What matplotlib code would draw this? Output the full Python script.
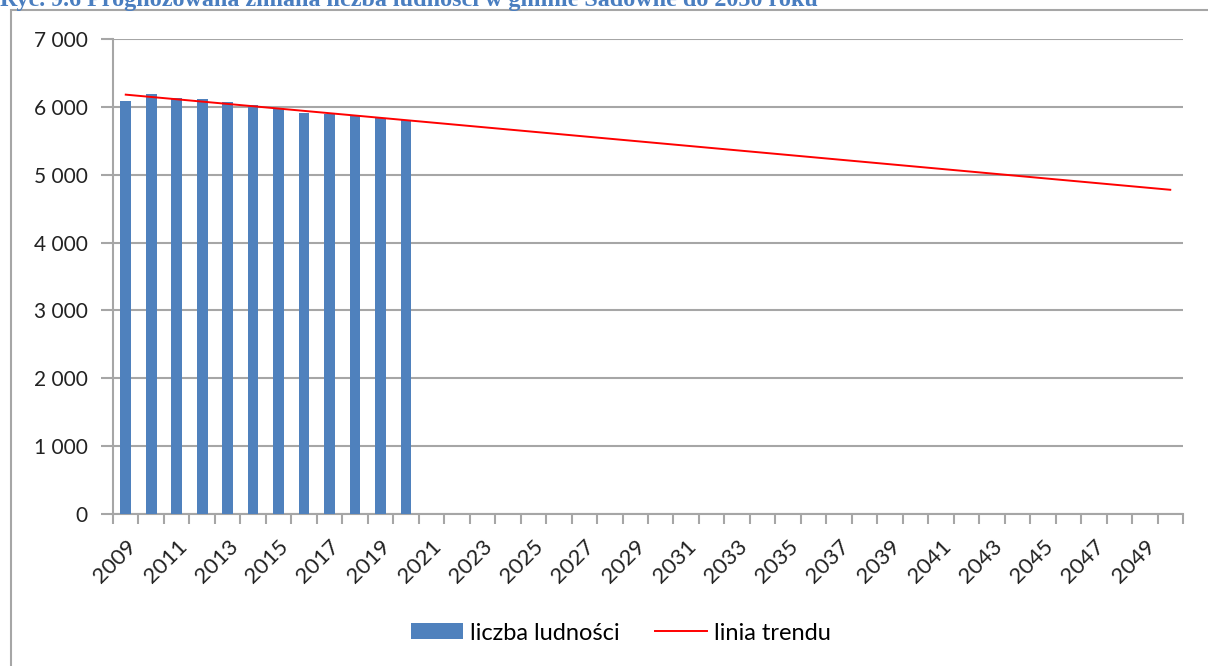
import matplotlib
import numpy as np

matplotlib.use("Agg")
import matplotlib.pyplot as plt
from matplotlib.lines import Line2D
from matplotlib.patches import Patch, Rectangle

TITLE = "Ryc. 9.6 Prognozowana zmiana liczba ludności w gminie Sadowne do 2050 roku"

years = list(range(2009, 2051))
bar_years = list(range(2009, 2021))
population = [6088, 6187, 6128, 6109, 6069, 6030, 5971, 5912, 5902, 5873, 5834, 5804]
trend_years = [2009, 2050]
trend_values = [6180, 4778]
y_ticks = [0, 1000, 2000, 3000, 4000, 5000, 6000, 7000]

BLUE = "#4F81BD"
GRID = "#A6A6A6"
FONT = ["Lato", "DejaVu Sans"]

fig = plt.figure(figsize=(12.08, 6.66), dpi=100)
W, H = 1208, 666
ax = fig.add_axes([113 / W, 1 - 514 / H, (1183 - 113) / W, (514 - 39) / H])

# chart frame (cut off on right and bottom)
fig.patches.append(Rectangle((10.5 / W, -0.1), 1.2, (H - 9.5) / H + 0.1,
                             transform=fig.transFigure, fill=False,
                             edgecolor=GRID, linewidth=1.5))

idx = {y: i for i, y in enumerate(years)}
ax.bar([idx[y] for y in bar_years], population, width=0.42, color=BLUE, zorder=3)
ax.plot([idx[y] for y in trend_years], trend_values, color="#FF0000", linewidth=1.4, zorder=4)

ax.set_xlim(-0.5, len(years) - 0.5)
ax.set_ylim(0, 7000)
ax.set_yticks(y_ticks)
ax.set_yticklabels([f"{v:,}".replace(",", " ") for v in y_ticks], fontsize=15, family=FONT, color="#222222")
ax.yaxis.grid(True, color=GRID, linewidth=1.5, zorder=0)

ax.set_xticks(list(range(0, len(years), 2)))
ax.set_xticklabels([str(y) for y in years[::2]], rotation=45, ha="right",
                   rotation_mode="anchor", fontsize=16, family=FONT, color="#222222")
ax.set_xticks(np.arange(-0.5, len(years), 1.0), minor=True)
ax.tick_params(axis="x", which="major", length=0, pad=16)
ax.tick_params(axis="x", which="minor", length=7, width=1.5, color=GRID, direction="out")
ax.tick_params(axis="y", length=9, width=1.5, color=GRID, pad=9)

for side in ["top", "right"]:
    ax.spines[side].set_visible(False)
for side in ["left", "bottom"]:
    ax.spines[side].set_color(GRID)
    ax.spines[side].set_linewidth(1.5)

fig.text(0.0, 1 - 6 / H, TITLE, family="Liberation Serif", fontweight="bold",
         fontsize=17.4, color="#4A7EC0", ha="left", va="baseline")

handles = [Patch(facecolor=BLUE, edgecolor="none"), Line2D([], [], color="#FF0000", linewidth=1.4)]
fig.legend(handles, ["liczba ludności", "linia trendu"], loc="center",
           bbox_to_anchor=(621 / W, 1 - 633 / H), ncol=2, frameon=False,
           prop={"family": FONT, "size": 17}, handlelength=2.2, handleheight=0.65,
           columnspacing=1.5, handletextpad=0.3)

fig.savefig("out.png", dpi=100)
